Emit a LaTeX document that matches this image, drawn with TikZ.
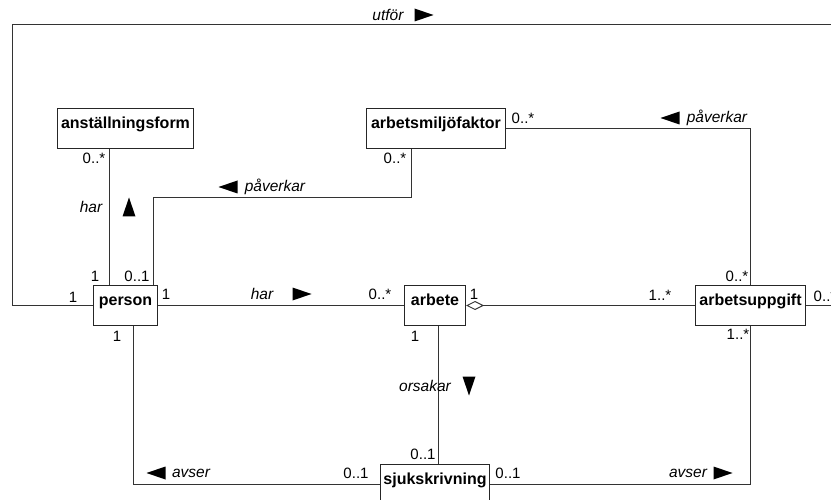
\documentclass[tikz,border=0pt]{standalone}
\usepackage{fontspec}
\setmainfont{Liberation Sans}
\usetikzlibrary{arrows.meta}
\tikzset{
  classbox/.style={rectangle, draw=black!85, line width=1pt, anchor=north west, font=\fontsize{16}{18}\selectfont\bfseries, inner xsep=1pt, inner ysep=0pt, text height=20pt, text depth=20pt},
  mult/.style={font=\fontsize{15}{17}\selectfont, inner sep=0pt},
  role/.style={font=\fontsize{15.5}{17}\selectfont\itshape, inner sep=0pt},
  edge/.style={line width=1pt, draw=black!80},
  agg_edge/.style={edge, {Diamond[open, length=18pt, width=9pt]}-},
  dirtip/.pic={\fill (9.5,0) -- (-9.5,6.5) -- (-9.5,-6.5) -- cycle;}
}
\begin{document}
\begin{tikzpicture}[x=1pt, y=-1pt]
        \useasboundingbox (0,0) rectangle (831,500);
        \clip (0,0) rectangle (831,500);
        % classes
        \node[classbox, minimum width=136] (anstform) at (57,108) {anställningsform};
        \node[classbox, minimum width=139] (miljo) at (366,108) {arbetsmiljöfaktor};
        \node[classbox, minimum width=64] (person) at (93,285) {person};
        \node[classbox, minimum width=61] (arbete) at (404,285) {arbete};
        \node[classbox, minimum width=110] (uppgift) at (695,285) {arbetsuppgift};
        \node[classbox, minimum width=109] (sjuk) at (380,464) {sjukskrivning};
        % bend points
        \coordinate (utforW) at (12,25);
        \coordinate (utforE) at (860,25);
        \coordinate (harA) at ([xshift=16pt]person.north west);
        \coordinate (paverkarA) at (411,198);
        \coordinate (orsakarA) at ([xshift=34pt]arbete.south west);
        \coordinate (avserA) at ([xshift=40pt]person.south west);
        % associations
        \draw[edge] (person.west) -| (utforW) -- (utforE) |- (uppgift.east);
        \draw[edge] (harA) -- (harA |- anstform.south);
        \draw[edge] (paverkarA |- miljo.south) -- (paverkarA) -| ([xshift=-5pt]person.north east);
        \draw[edge] (miljo.east) -| (uppgift.north);
        \draw[edge] (person.east) -- (arbete.west);
        \draw[agg_edge] (arbete.east) -- (uppgift.west);
        \draw[edge] (orsakarA) -- (orsakarA |- sjuk.north);
        \draw[edge] (avserA) |- (sjuk.west);
        \draw[edge] (sjuk.east) -| (uppgift.south);
        % role names
        \node[role] (lUtfor) at (388,15) {utför};
        \node[role] (lHarA) at (91,207) {har};
        \node[role] (lPavP) at (275,187) {påverkar};
        \node[role] (lPavU) at (717,118) {påverkar};
        \node[role] (lHarB) at (262,294) {har};
        \node[role] (lOrsakar) at (425,386) {orsakar};
        \node[role] (lAvserP) at (191,473) {avser};
        \node[role] (lAvserU) at (688,473) {avser};
        % reading directions
        \pic (tUtfor) at (424,15) {dirtip};
        \pic[rotate=90] (tHarA) at (129,207) {dirtip};
        \pic[rotate=180] (tPavP) at (228,187) {dirtip};
        \pic[rotate=180] (tPavU) at (670,118) {dirtip};
        \pic (tHarB) at (302,294) {dirtip};
        \pic[rotate=270] (tOrsakar) at (469,386) {dirtip};
        \pic[rotate=180] (tAvserP) at (156,473) {dirtip};
        \pic (tAvserU) at (723,473) {dirtip};
        % multiplicities
        \node[mult] (m1) at (94,158) {0..*};
        \node[mult] (m2) at (395,158) {0..*};
        \node[mult] (m3) at (523,118) {0..*};
        \node[mult] (m4) at (95,276) {1};
        \node[mult] (m5) at (137,276) {0..1};
        \node[mult] (m6) at (73,297) {1};
        \node[mult] (m7) at (166,294) {1};
        \node[mult] (m8) at (380,294) {0..*};
        \node[mult] (m9) at (474,294) {1};
        \node[mult] (m10) at (660,295) {1..*};
        \node[mult] (m11) at (737,276) {0..*};
        \node[mult] (m12) at (825,296) {0..*};
        \node[mult] (m13) at (117,336) {1};
        \node[mult] (m14) at (415,336) {1};
        \node[mult] (m15) at (738,334) {1..*};
        \node[mult] (m16) at (423,454) {0..1};
        \node[mult] (m17) at (356,473) {0..1};
        \node[mult] (m18) at (508,473) {0..1};
    \end{tikzpicture}
\end{document}
